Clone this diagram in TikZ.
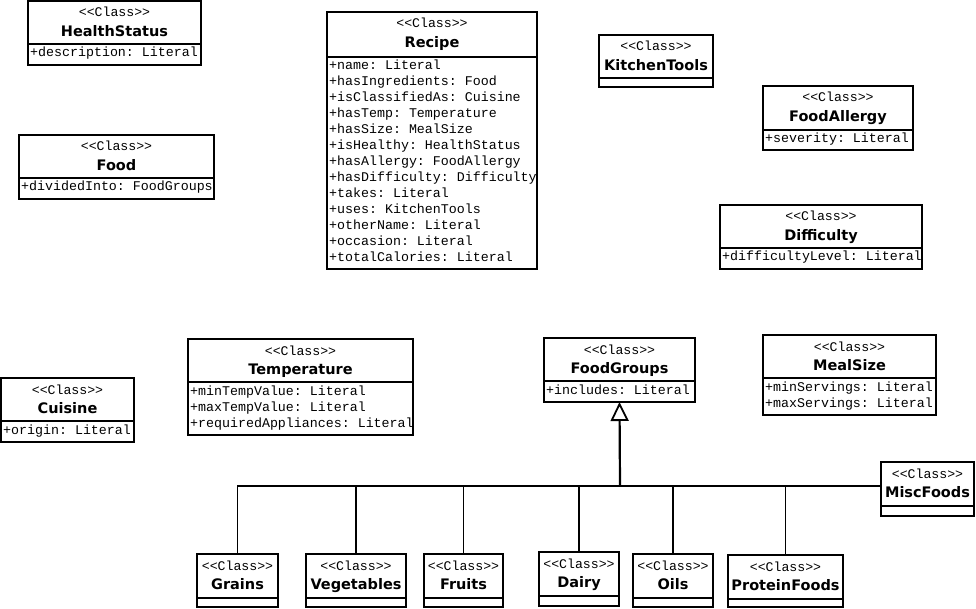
\documentclass[tikz,border=0pt]{standalone}
\usepackage{fontspec}
\setmonofont{Liberation Mono}
\newfontfamily\titlefont{DejaVu Sans}
\usetikzlibrary{arrows.meta}

\tikzset{
  classframe/.style={draw=black, line width=1.8pt, fill=white, inner sep=0pt, outer sep=0pt},
  sepline/.style={draw=black, line width=1.8pt},
  stereo/.style={inner sep=0pt, font=\ttfamily\fontsize{13.2}{15}\selectfont},
  cname/.style={inner sep=0pt, font=\titlefont\bfseries\fontsize{14.5}{17}\selectfont},
  attr/.style={inner sep=0pt, font=\ttfamily\fontsize{13.3}{16}\selectfont},
  bus/.style={draw=black, line width=1.6pt},
  trunk/.style={draw=black, line width=2.2pt,
    -{Triangle[open, length=19pt, width=18pt, line width=1.8pt]}}
}

% class box: id, left, top, right, separator, bottom, name
\newcommand\umlclass[7]{%
  \node[classframe, anchor=north west,
        minimum width={(#4-#2)*1pt}, minimum height={(#6-#3)*1pt}] (#1) at (#2,#3) {};
  \draw[sepline] (#2,#5) -- (#4,#5);
  \node[stereo, anchor=base] at ({(#2+#4)/2},{#3+16}) {<<Class>>};
  \node[cname, anchor=base] at ({(#2+#4)/2},{#3+35.5}) {#7};
}
% attribute lines: left, separator, list
\newcommand\umlattrs[3]{%
  \foreach \a [count=\i] in {#3} {
    \node[attr, anchor=base west] at ({#1+2},{#2+13+16*(\i-1)}) {\a};
  }
}

\begin{document}
\begin{tikzpicture}[x=1pt, y=-1pt]
\useasboundingbox[fill=white] (0,0) rectangle (976,609);

\umlclass{health}{28}{1}{201}{44}{65}{HealthStatus}
\umlattrs{28}{44}{+description: Literal}

\umlclass{recipe}{327}{12}{537}{57}{269}{Recipe}
\umlattrs{327}{57}{+name: Literal, +hasIngredients: Food, +isClassifiedAs: Cuisine,
  +hasTemp: Temperature, +hasSize: MealSize, +isHealthy: HealthStatus,
  +hasAllergy: FoodAllergy, +hasDifficulty: Difficulty, +takes: Literal,
  +uses: KitchenTools, +otherName: Literal, +occasion: Literal, +totalCalories: Literal}

\umlclass{tools}{599}{35}{713}{78}{87}{KitchenTools}

\umlclass{allergy}{763}{86}{913}{130}{150}{FoodAllergy}
\umlattrs{763}{130}{+severity: Literal}

\umlclass{food}{19}{135}{214}{178}{199}{Food}
\umlattrs{19}{178}{+dividedInto: FoodGroups}

\umlclass{difficulty}{720}{205}{922}{248}{269}{Difficulty}
\umlattrs{720}{248}{+difficultyLevel: Literal}

\umlclass{temp}{188}{339}{413}{382}{435}{Temperature}
\umlattrs{188}{382}{+minTempValue: Literal, +maxTempValue: Literal, +requiredAppliances: Literal}

\umlclass{cuisine}{1}{378}{134}{421}{442}{Cuisine}
\umlattrs{1}{421}{+origin: Literal}

\umlclass{groups}{544}{338}{695}{381}{402}{FoodGroups}
\umlattrs{544}{381}{+includes: Literal}

\umlclass{mealsize}{763}{335}{936}{378}{415}{MealSize}
\umlattrs{763}{378}{+minServings: Literal, +maxServings: Literal}

\umlclass{misc}{881}{462}{974}{506}{516}{MiscFoods}

\umlclass{grains}{197}{554}{278}{598}{607}{Grains}
\umlclass{vegetables}{306}{554}{406}{598}{607}{Vegetables}
\umlclass{fruits}{424}{554}{503}{598}{607}{Fruits}
\umlclass{dairy}{539}{552}{619}{596}{606}{Dairy}
\umlclass{oils}{633}{554}{713}{598}{607}{Oils}
\umlclass{protein}{728}{555}{843}{599}{607}{ProteinFoods}

% generalisation tree of the food groups
\coordinate (junction) at (620,486);
\draw[bus] (grains.north) |- (misc.west |- junction);
\foreach \child in {vegetables, fruits, dairy, oils, protein}
  \draw[bus] (\child.north) -- (\child.north |- junction);
\draw[trunk] (junction) -- (groups.south);
\end{tikzpicture}
\end{document}
